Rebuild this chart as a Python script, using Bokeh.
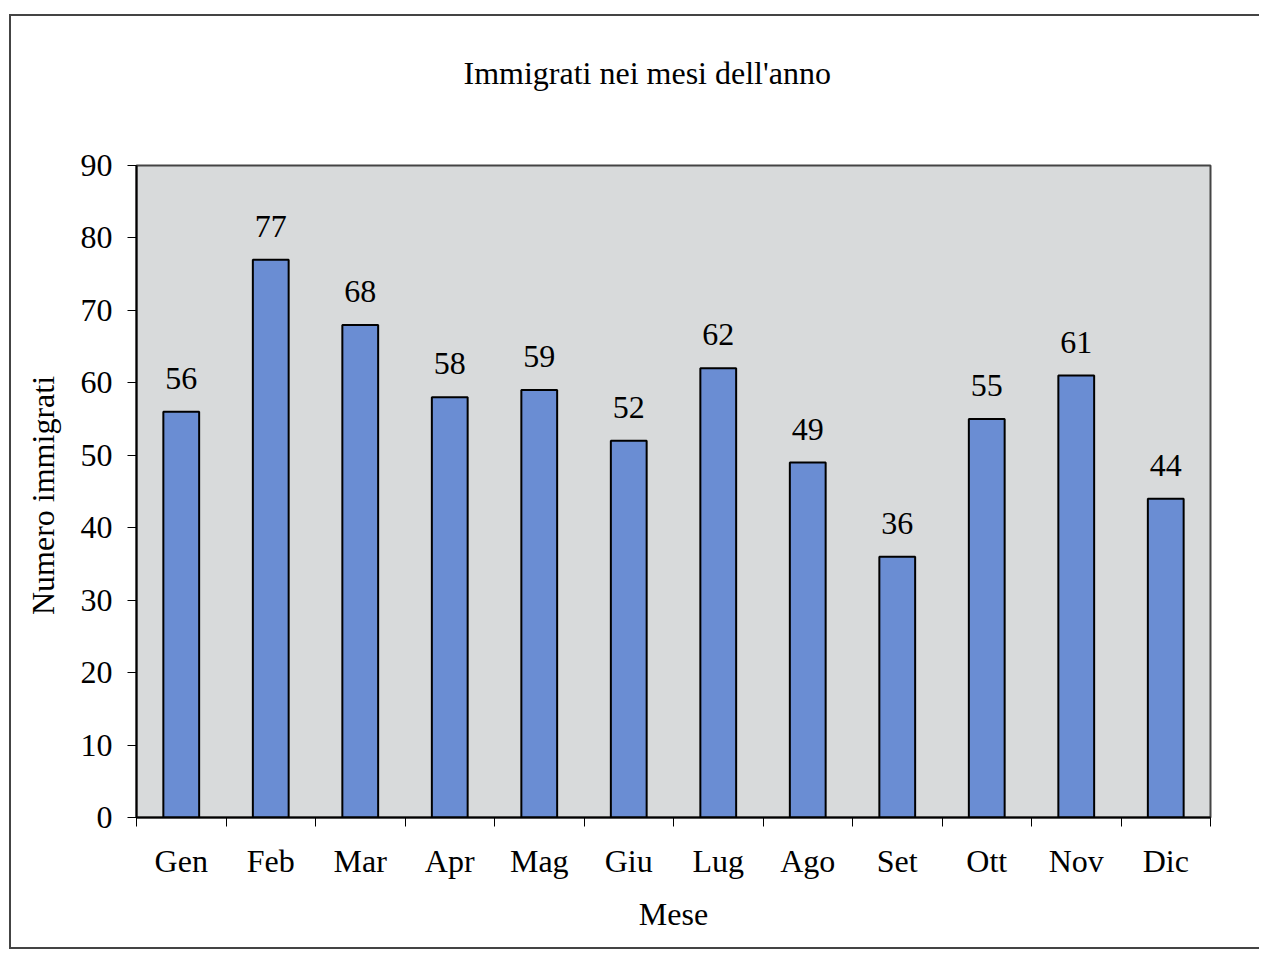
from bokeh.plotting import figure
from bokeh.models import FixedTicker, ColumnDataSource, LabelSet, Range1d, Title
from bokeh.embed import file_html
from bokeh.resources import INLINE

months = ["Gen", "Feb", "Mar", "Apr", "Mag", "Giu", "Lug", "Ago", "Set", "Ott", "Nov", "Dic"]
values = [56, 77, 68, 58, 59, 52, 62, 49, 36, 55, 61, 44]
y_ticks = [0, 10, 20, 30, 40, 50, 60, 70, 80, 90]
title_text = "Immigrati nei mesi dell'anno"
x_label = "Mese"
y_label = "Numero  immigrati"

FONT = "Liberation Serif"
FS = "32px"

xs = list(range(1, len(months) + 1))
src = ColumnDataSource(dict(x=xs, top=values, label=[str(v) for v in values]))

p = figure(title=None, frame_width=1074, frame_height=652,
           x_range=Range1d(0.5, len(months) + 0.5), y_range=Range1d(0, 90),
           output_backend="svg", toolbar_location=None,
           min_border_left=125, min_border_right=49,
           min_border_top=149, min_border_bottom=130)

p.margin = (14, 0, 0, 9)
p.styles = {"border-top": "2px solid #444", "border-left": "2px solid #444",
            "border-bottom": "2px solid #444"}

p.background_fill_color = "#d8dadb"
p.border_fill_color = "white"
p.outline_line_color = "#444444"
p.outline_line_width = 2
p.grid.visible = False

p.vbar(x="x", top="top", width=0.4, bottom=0, source=src,
       fill_color="#6a8dd3", line_color="black", line_width=2)

labels = LabelSet(x="x", y="top", text="label", source=src, y_offset=23,
                  text_align="center", text_baseline="alphabetic",
                  text_font=FONT, text_font_size=FS, text_color="black")
p.add_layout(labels)

# spacer panel next to the frame (white on white), then the real title above it
spacer = Title(text=".", text_font_size="1px", text_color="white", standoff=72)
p.add_layout(spacer, "above")
main_title = Title(text=title_text, text_font=FONT, text_font_size=FS,
                   text_font_style="normal", text_color="black",
                   align="left", offset=327, standoff=0, vertical_align="bottom")
p.add_layout(main_title, "above")

# x axis: labels at centres, tick marks at category boundaries (minor)
xa = p.xaxis[0]
xa.ticker = FixedTicker(ticks=xs, minor_ticks=[i + 0.5 for i in range(len(months) + 1)])
xa.major_label_overrides = {i: m for i, m in zip(xs, months)}
xa.major_tick_out = 0
xa.major_tick_in = 0
xa.minor_tick_out = 9
xa.minor_tick_in = 0
xa.minor_tick_line_color = "black"
xa.minor_tick_line_width = 1
xa.axis_line_color = "black"
xa.axis_line_width = 2
xa.major_label_text_font = FONT
xa.major_label_text_font_size = FS
xa.major_label_text_color = "black"
xa.major_label_standoff = 16
xa.axis_label = x_label
xa.axis_label_text_font = FONT
xa.axis_label_text_font_size = FS
xa.axis_label_text_font_style = "normal"
xa.axis_label_text_color = "black"
xa.axis_label_standoff = 14

ya = p.yaxis[0]
ya.ticker = FixedTicker(ticks=y_ticks, minor_ticks=[])
ya.major_tick_out = 9
ya.major_tick_in = 0
ya.major_tick_line_color = "black"
ya.axis_line_color = "black"
ya.axis_line_width = 2
ya.major_label_text_font = FONT
ya.major_label_text_font_size = FS
ya.major_label_text_color = "black"
ya.major_label_standoff = 15
ya.axis_label = y_label
ya.axis_label_text_font = FONT
ya.axis_label_text_font_size = FS
ya.axis_label_text_font_style = "normal"
ya.axis_label_text_color = "black"
ya.axis_label_standoff = 17

open("out.html", "w").write(file_html(p, INLINE))
